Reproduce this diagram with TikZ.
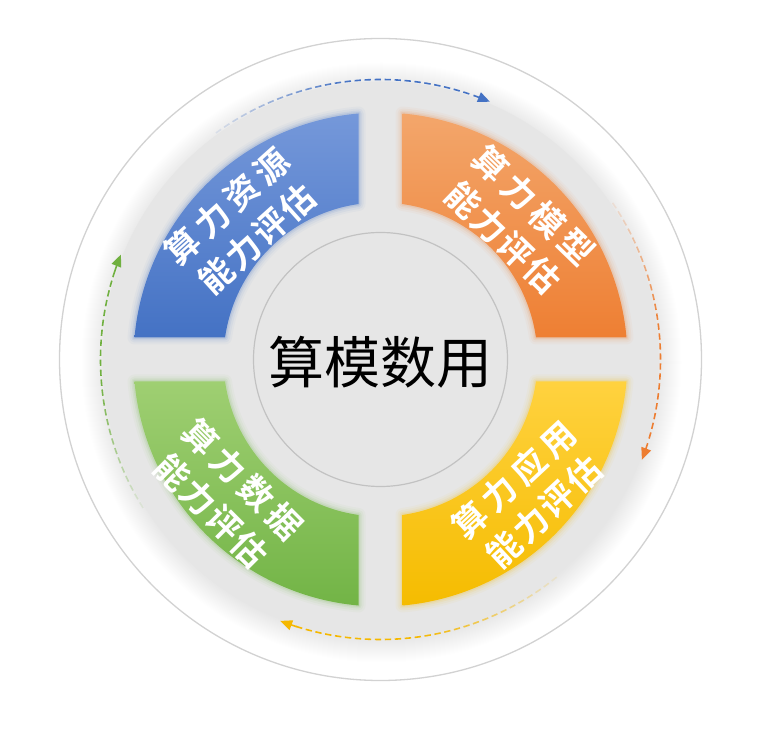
\documentclass[tikz,border=0pt]{standalone}
\usepackage{fontspec}
\usetikzlibrary{arrows.meta}
\newfontfamily\cjk{Noto Sans CJK SC}
\newfontfamily\qfo{Noto Sans CJK SC Bold}[LetterSpace=17]
\newfontfamily\qfi{Noto Sans CJK SC Bold}[LetterSpace=7]
\definecolor{bluetop}{HTML}{7598DA}
\definecolor{bluebot}{HTML}{4472C4}
\definecolor{orgtop}{HTML}{F3A66B}
\definecolor{orgbot}{HTML}{EE7F33}
\definecolor{grntop}{HTML}{9FCF72}
\definecolor{grnbot}{HTML}{72B446}
\definecolor{ylwtop}{HTML}{FFD23F}
\definecolor{ylwbot}{HTML}{F5BC00}
\definecolor{diskgray}{HTML}{E6E6E6}
\definecolor{ringline}{HTML}{D2D2D2}
\definecolor{innerline}{HTML}{C2C2C2}
\definecolor{arrblue}{HTML}{4472C4}
\definecolor{arrorg}{HTML}{ED7D31}
\definecolor{arrylw}{HTML}{F5B800}
\definecolor{arrgrn}{HTML}{70B040}
\pgfmathsetmacro\Ro{247}
\pgfmathsetmacro\Ri{157}
\pgfmathsetmacro\so{asin(22/247)}
\pgfmathsetmacro\si{asin(22/157)}
\newcommand\qpath[1]{(#1+\so:\Ro) arc[start angle=#1+\so, end angle=#1+90-\so, radius=\Ro] -- (#1+90-\si:\Ri) arc[start angle=#1+90-\si, end angle=#1+\si, radius=\Ri] -- cycle}
\newcommand\quadrant[4]{%
  \foreach \w/\o in {14/0.04,10/0.06,6/0.09,3/0.12}
    \draw[line width=\w pt, draw=#4, opacity=\o, line join=round] \qpath{#1};
  \shade[top color=#2, bottom color=#3] \qpath{#1};
}
\newcommand\dasharc[3]{%
  \pgfmathtruncatemacro\nd{(#2-#3-4)/2.046}
  \foreach \k in {0,...,\nd}{
    \pgfmathsetmacro\aa{#2-\k*2.046}
    \pgfmathsetmacro\ab{\aa-1.3}
    \pgfmathsetmacro\op{min(1,0.12+1.6*\k/\nd)}
    \draw[#1, line width=1.6pt, opacity=\op] (\aa:280) arc[start angle=\aa, end angle=\ab, radius=280];
  }
  \draw[#1, line width=1.6pt, -{Triangle[length=12pt,width=10pt]}] (#3+3.6:280) arc[start angle=#3+3.6, end angle=#3, radius=280];
}
\tikzset{
  qtext/.style={text=white, inner sep=0pt, anchor=center, align=center, font=\fontsize{34}{44}\selectfont},
  ctext/.style={inner sep=0pt, anchor=center, font=\cjk\fontsize{56}{60}\selectfont}
}
\begin{document}
\begin{tikzpicture}[x=1pt,y=1pt]
\useasboundingbox (0,0) rectangle (779,731);
\fill[white] (0,0) rectangle (779,731);
\begin{scope}[shift={(380.5,371.5)}]
  % outer thin ring
  \draw[ringline, line width=1.3pt] (0,0) circle (321);
  % soft shadow of gray disk
  \foreach \k in {1,...,24}
    \fill[black, opacity=0.005] (1,-3) circle (276+\k);
  % gray disk
  \fill[diskgray] (0,0) circle (278);
  % quadrants
  \quadrant{90}{bluetop}{bluebot}{bluebot}
  \quadrant{0}{orgtop}{orgbot}{orgbot}
  \quadrant{180}{grntop}{grnbot}{grnbot}
  \quadrant{270}{ylwtop}{ylwbot}{ylwbot}
  % centre disk
  \draw[innerline, fill=diskgray, line width=1.2pt] (0,0) circle (127);
  % central text
  \node[ctext] (centre) at (-0.5,-2.5) {算模数用};
  % quadrant texts
  \node[qtext, rotate=42] (blue) at (-138.7,137) {{\qfo 算力资源}\\{\qfi 能力评估}};
  \node[qtext, rotate=-44] (orange) at (137.8,137.8) {{\qfo 算力模型}\\{\qfi 能力评估}};
  \node[qtext, rotate=-45] (green) at (-153.4,-135.4) {{\qfo 算力数据}\\{\qfi 能力评估}};
  \node[qtext, rotate=43] (yellow) at (148.6,-136.3) {{\qfo 算力应用}\\{\qfi 能力评估}};
  % dashed cycle arrows
  \dasharc{arrblue}{126}{67}
  \dasharc{arrorg}{34}{-21}
  \dasharc{arrylw}{-51}{-111}
  \dasharc{arrgrn}{212}{158}
\end{scope}
\end{tikzpicture}
\end{document}
